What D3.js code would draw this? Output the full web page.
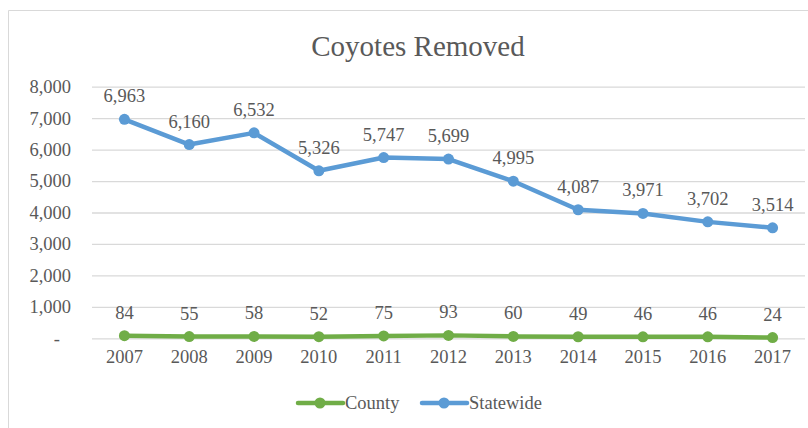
<!DOCTYPE html>
<html>
<head>
<meta charset="utf-8">
<script src="https://cdn.jsdelivr.net/npm/d3@7"></script>
<style>
  body { margin: 0; background: #fff; }
  text { font-family: "Liberation Serif", "Times New Roman", serif; fill: #595959; }
</style>
</head>
<body>
<svg id="chart" width="808" height="428"></svg>
<script>
// data
const years = ["2007","2008","2009","2010","2011","2012","2013","2014","2015","2016","2017"];
const county = [84, 55, 58, 52, 75, 93, 60, 49, 46, 46, 24];
const statewide = [6963, 6160, 6532, 5326, 5747, 5699, 4995, 4087, 3971, 3702, 3514];
const yTicks = [0, 1000, 2000, 3000, 4000, 5000, 6000, 7000, 8000];

const series = [
  { name: "County", values: county, color: "#70AD47" },
  { name: "Statewide", values: statewide, color: "#5B9BD5" }
];

const svg = d3.select("#chart");
const plot = { left: 92, right: 805, top: 86.7, bottom: 338.3 };
const fs = "18.5px";

// chart frame (only top and left edge visible)
svg.append("path")
  .attr("d", "M8.5,428 V10.5 H808")
  .attr("fill", "none")
  .attr("stroke", "#d9d9d9")
  .attr("stroke-width", 1);

svg.append("text")
  .attr("x", 418).attr("y", 56)
  .attr("text-anchor", "middle")
  .style("font-size", "29px")
  .text("Coyotes Removed");

const x = d3.scaleBand().domain(years).range([plot.left, plot.right]);
const y = d3.scaleLinear().domain([0, 8000]).range([plot.bottom, plot.top]);
const cx = d => x(d) + x.bandwidth() / 2;

// gridlines + y labels
const yAxis = svg.append("g")
  .attr("transform", `translate(${plot.left},0)`)
  .call(d3.axisLeft(y).tickValues(yTicks)
    .tickSize(-(plot.right - plot.left))
    .tickPadding(21)
    .tickFormat(d => d === 0 ? "-" : d3.format(",")(d)));
yAxis.select(".domain").remove();
yAxis.selectAll(".tick line").attr("stroke", "#d9d9d9").attr("stroke-width", 1.3);
yAxis.selectAll(".tick text")
  .style("font-size", fs)
  .attr("fill", "#595959")
  .attr("x", d => d === 0 ? -32 : -21);

// x labels
const xAxis = svg.append("g")
  .attr("transform", `translate(0,${plot.bottom})`)
  .call(d3.axisBottom(x).tickSize(0).tickPadding(12));
xAxis.select(".domain").remove();
xAxis.selectAll(".tick text").style("font-size", fs).attr("fill", "#595959");

const line = d3.line()
  .x((d, i) => cx(years[i]))
  .y(d => y(d));

series.forEach(s => {
  const g = svg.append("g");
  g.append("path")
    .datum(s.values)
    .attr("d", line)
    .attr("fill", "none")
    .attr("stroke", s.color)
    .attr("stroke-width", 4.5)
    .attr("stroke-linejoin", "round");
  g.selectAll("circle")
    .data(s.values)
    .enter().append("circle")
    .attr("cx", (d, i) => cx(years[i]))
    .attr("cy", d => y(d))
    .attr("r", 5.5)
    .attr("fill", s.color);
  g.selectAll("text")
    .data(s.values)
    .enter().append("text")
    .attr("x", (d, i) => cx(years[i]))
    .attr("y", d => y(d) - 17)
    .attr("text-anchor", "middle")
    .style("font-size", fs)
    .text(d => d3.format(",")(d));
});

// legend
const legend = svg.append("g").attr("transform", "translate(0,403)");
const legendX = [298, 422];
series.forEach((s, i) => {
  const lg = legend.append("g").attr("transform", `translate(${legendX[i]},0)`);
  lg.append("line")
    .attr("x1", 0).attr("x2", 45)
    .attr("stroke", s.color).attr("stroke-width", 4.5)
    .attr("stroke-linecap", "round");
  lg.append("circle").attr("cx", 22).attr("r", 5.5).attr("fill", s.color);
  lg.append("text")
    .attr("x", 47).attr("y", 6)
    .style("font-size", fs)
    .text(s.name);
});
</script>
</body>
</html>
